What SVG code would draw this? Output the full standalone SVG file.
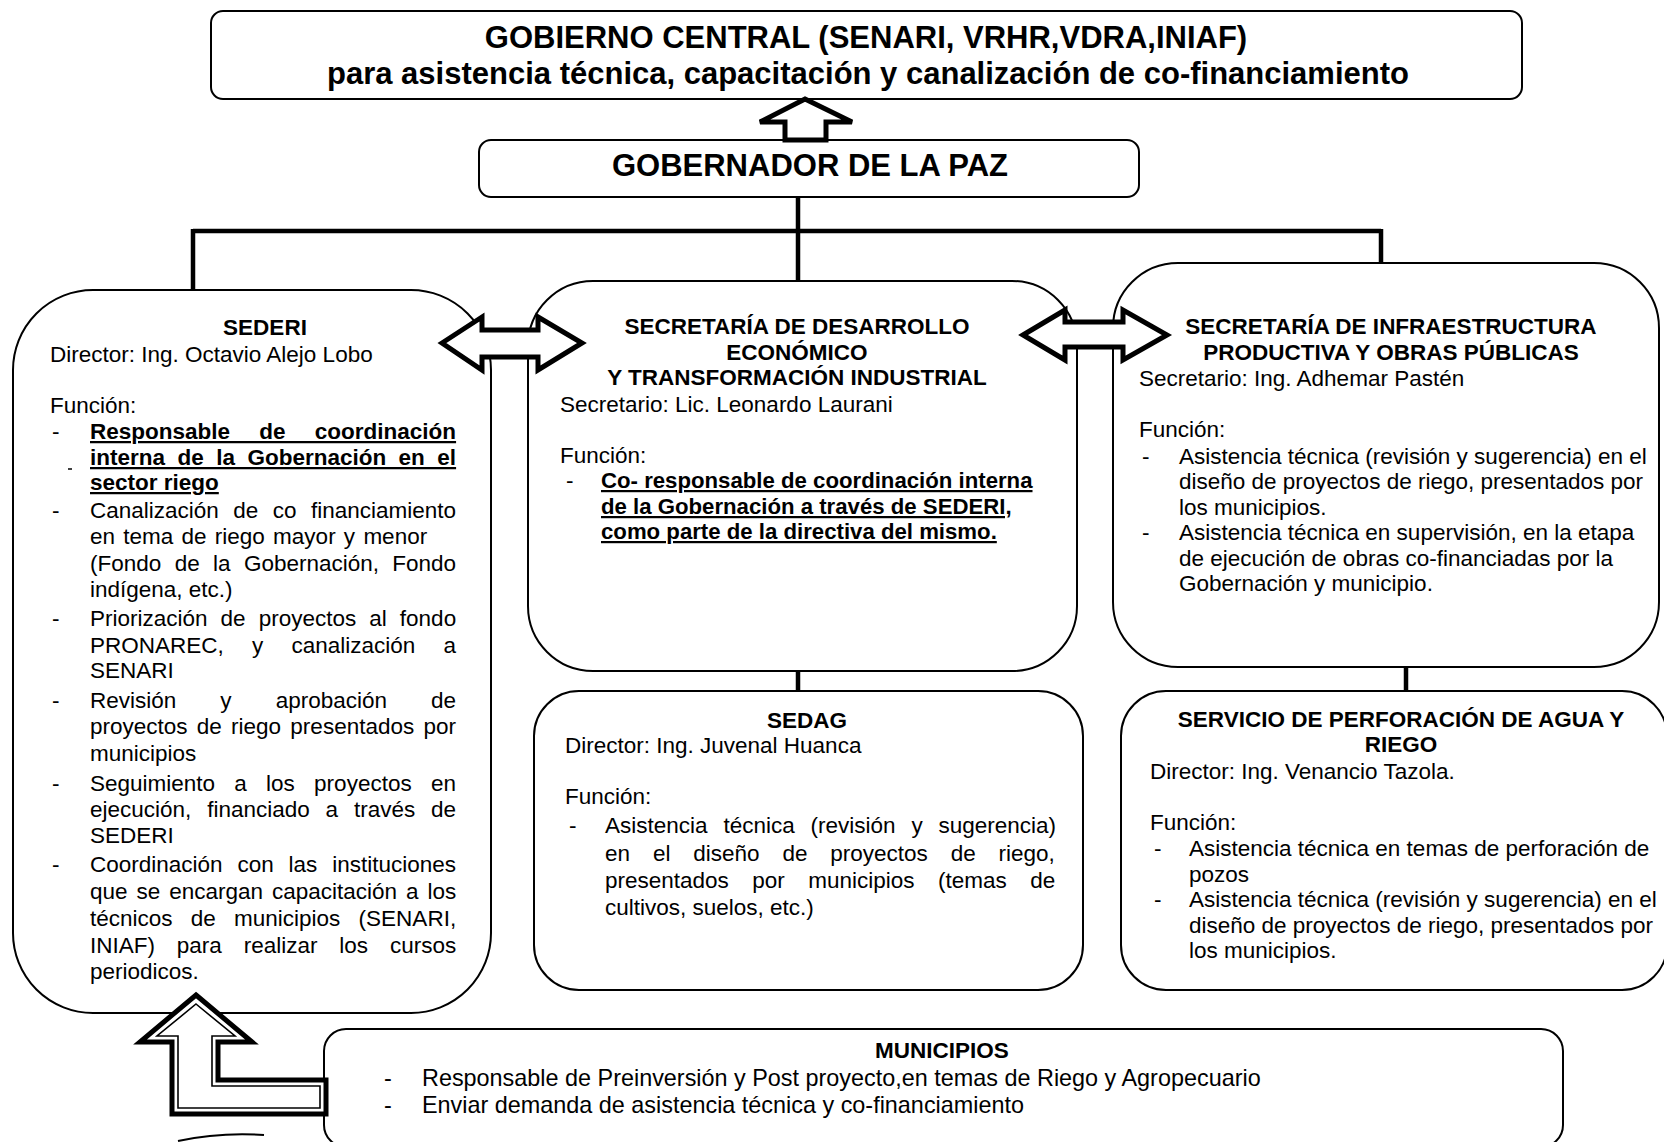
<svg xmlns="http://www.w3.org/2000/svg" width="1664" height="1142" viewBox="0 0 1664 1142">
<style>
.box{fill:#fff;stroke:#000;stroke-width:2}
.t{font-family:"Liberation Sans",Arial,sans-serif;font-size:22.5px;fill:#000}
.b{font-weight:bold}
.u{text-decoration:underline}
.c{text-anchor:middle}
.big{font-size:31px}
.m{font-size:23.4px}
.conn{stroke:#000;stroke-width:4.5;fill:none}
.arr{fill:#fff;stroke:#000;stroke-width:5;stroke-linejoin:miter}
</style>
<rect width="1664" height="1142" fill="#fff"/>

<g id="connectors">
<path class="conn" d="M798 197 V281 M193 231 H1381 M193 229 V291 M1381 229 V264 M798 671 V691 M1406 667 V691"/>
</g>

<g id="gobierno-central">
<rect class="box" x="211" y="11" width="1311" height="88" rx="12"/>
<text class="t b big c" x="866" y="48">GOBIERNO CENTRAL (SENARI, VRHR,VDRA,INIAF)</text>
<text class="t b big c" x="868" y="84">para asistencia técnica, capacitación y canalización de co-financiamiento</text>
</g>

<g id="gobernador">
<rect class="box" x="479" y="140" width="660" height="57" rx="12"/>
<text class="t b big c" x="810" y="176">GOBERNADOR DE LA PAZ</text>
</g>

<g id="sederi">
<rect class="box" x="13" y="290" width="478" height="723" rx="80"/>
<text class="t b c" x="265" y="335">SEDERI</text>
<text class="t" x="50" y="362">Director: Ing. Octavio Alejo Lobo</text>
<text class="t" x="50" y="413">Función:</text>
<text class="t" x="52" y="439">-</text>
<text class="t b u" x="90" y="439" style="word-spacing:23px">Responsable de coordinación</text>
<text class="t b u" x="90" y="465" style="word-spacing:6.2px">interna de la Gobernación en el</text>
<line x1="68" y1="469" x2="72" y2="469" stroke="#000" stroke-width="1.5"/>
<text class="t b u" x="90" y="490">sector riego</text>
<text class="t" x="52" y="518">-</text>
<text class="t" x="90" y="518" style="word-spacing:8.2px">Canalización de co financiamiento</text>
<text class="t" x="90" y="544" style="word-spacing:2px">en tema de riego mayor y menor</text>
<text class="t" x="90" y="571" style="word-spacing:7.1px">(Fondo de la Gobernación, Fondo</text>
<text class="t" x="90" y="597">indígena, etc.)</text>
<text class="t" x="52" y="626">-</text>
<text class="t" x="90" y="626" style="word-spacing:6.8px">Priorización de proyectos al fondo</text>
<text class="t" x="90" y="653" style="word-spacing:22px">PRONAREC, y canalización a</text>
<text class="t" x="90" y="678">SENARI</text>
<text class="t" x="52" y="708">-</text>
<text class="t" x="90" y="708" style="word-spacing:37.8px">Revisión y aprobación de</text>
<text class="t" x="90" y="734" style="word-spacing:3px">proyectos de riego presentados por</text>
<text class="t" x="90" y="761">municipios</text>
<text class="t" x="52" y="791">-</text>
<text class="t" x="90" y="791" style="word-spacing:13px">Seguimiento a los proyectos en</text>
<text class="t" x="90" y="817" style="word-spacing:9.6px">ejecución, financiado a través de</text>
<text class="t" x="90" y="843">SEDERI</text>
<text class="t" x="52" y="872">-</text>
<text class="t" x="90" y="872" style="word-spacing:8.6px">Coordinación con las instituciones</text>
<text class="t" x="90" y="899" style="word-spacing:2.7px">que se encargan capacitación a los</text>
<text class="t" x="90" y="926" style="word-spacing:12px">técnicos de municipios (SENARI,</text>
<text class="t" x="90" y="953" style="word-spacing:15.6px">INIAF) para realizar los cursos</text>
<text class="t" x="90" y="979">periodicos.</text>
</g>

<g id="sdeti">
<rect class="box" x="528" y="281" width="549" height="390" rx="65"/>
<text class="t b c" x="797" y="334">SECRETARÍA DE DESARROLLO</text>
<text class="t b c" x="797" y="360">ECONÓMICO</text>
<text class="t b c" x="797" y="385">Y TRANSFORMACIÓN INDUSTRIAL</text>
<text class="t" x="560" y="412">Secretario: Lic. Leonardo Laurani</text>
<text class="t" x="560" y="463">Función:</text>
<text class="t" x="566" y="488">-</text>
<text class="t b u" x="601" y="488" style="font-size:22.2px">Co- responsable de coordinación interna</text>
<text class="t b u" x="601" y="514" style="font-size:22.2px">de la Gobernación a través de SEDERI,</text>
<text class="t b u" x="601" y="539" style="font-size:22.2px">como parte de la directiva del mismo.</text>
</g>

<g id="sipop">
<rect class="box" x="1113" y="263" width="546" height="404" rx="65"/>
<text class="t b c" x="1391" y="334">SECRETARÍA DE INFRAESTRUCTURA</text>
<text class="t b c" x="1391" y="360">PRODUCTIVA Y OBRAS PÚBLICAS</text>
<text class="t" x="1139" y="386">Secretario: Ing. Adhemar Pastén</text>
<text class="t" x="1139" y="437">Función:</text>
<text class="t" x="1142" y="464">-</text>
<text class="t" x="1179" y="464">Asistencia técnica (revisión y sugerencia) en el</text>
<text class="t" x="1179" y="489">diseño de proyectos de riego, presentados por</text>
<text class="t" x="1179" y="515">los municipios.</text>
<text class="t" x="1142" y="540">-</text>
<text class="t" x="1179" y="540">Asistencia técnica en supervisión, en la etapa</text>
<text class="t" x="1179" y="566">de ejecución de obras co-financiadas por la</text>
<text class="t" x="1179" y="591">Gobernación y municipio.</text>
</g>

<g id="sedag">
<rect class="box" x="534" y="691" width="549" height="299" rx="45"/>
<text class="t b c" x="807" y="728">SEDAG</text>
<text class="t" x="565" y="753">Director: Ing. Juvenal Huanca</text>
<text class="t" x="565" y="804">Función:</text>
<text class="t" x="569" y="833">-</text>
<text class="t" x="605" y="833" style="word-spacing:9.6px">Asistencia técnica (revisión y sugerencia)</text>
<text class="t" x="605" y="861" style="word-spacing:16.6px">en el diseño de proyectos de riego,</text>
<text class="t" x="605" y="888" style="word-spacing:17.2px">presentados por municipios (temas de</text>
<text class="t" x="605" y="915">cultivos, suelos, etc.)</text>
</g>

<g id="spar">
<rect class="box" x="1121" y="691" width="546" height="299" rx="45"/>
<text class="t b c" x="1401" y="727">SERVICIO DE PERFORACIÓN DE AGUA Y</text>
<text class="t b c" x="1401" y="752">RIEGO</text>
<text class="t" x="1150" y="779">Director: Ing. Venancio Tazola.</text>
<text class="t" x="1150" y="830">Función:</text>
<text class="t" x="1154" y="856">-</text>
<text class="t" x="1189" y="856">Asistencia técnica en temas de perforación de</text>
<text class="t" x="1189" y="882">pozos</text>
<text class="t" x="1154" y="907">-</text>
<text class="t" x="1189" y="907">Asistencia técnica (revisión y sugerencia) en el</text>
<text class="t" x="1189" y="933">diseño de proyectos de riego, presentados por</text>
<text class="t" x="1189" y="958">los municipios.</text>
</g>

<g id="municipios">
<rect class="box" x="324" y="1029" width="1239" height="118" rx="22"/>
<text class="t b c" x="942" y="1058">MUNICIPIOS</text>
<text class="t m" x="384" y="1086">-</text>
<text class="t m" x="422" y="1086">Responsable de Preinversión y Post proyecto,en temas de Riego y Agropecuario</text>
<text class="t m" x="384" y="1113">-</text>
<text class="t m" x="422" y="1113">Enviar demanda de asistencia técnica y co-financiamiento</text>
</g>

<g id="arrows">
<polygon class="arr" stroke-width="4" points="805,99 852,122 826,122 826,140 785,140 785,122 760,122"/>
<polygon class="arr" points="442,343 482,317 482,330 538,330 538,317 582,343 538,370 538,357 482,357 482,370"/>
<polygon class="arr" points="1023,335 1065,310 1065,322 1123,322 1123,310 1167,335 1123,360 1123,347 1065,347 1065,360"/>
<polygon class="arr" stroke-width="6" points="196,995 252,1042 218,1042 218,1080 326,1080 326,1114 172,1114 172,1042 140,1042"/>
<polygon fill="none" stroke="#000" stroke-width="1.6" stroke-linejoin="miter" points="196,1004 235,1036 212,1036 212,1086 320,1086 320,1108 178,1108 178,1036 157,1036"/>
<path d="M178 1141 Q220 1132 264 1135" fill="none" stroke="#000" stroke-width="2"/>
</g>
</svg>
